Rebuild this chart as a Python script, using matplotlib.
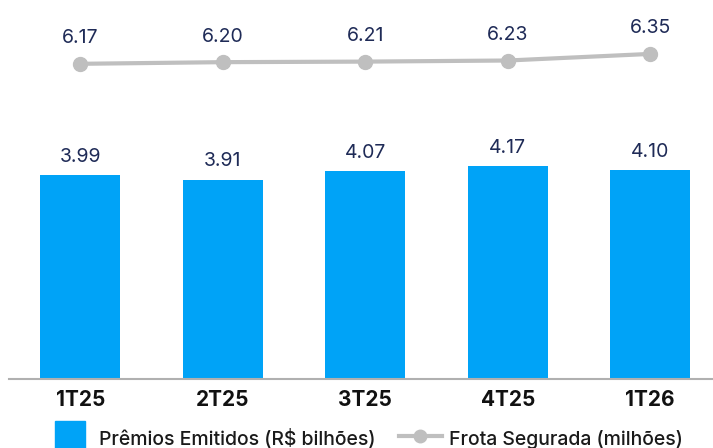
import matplotlib.pyplot as plt
from matplotlib.lines import Line2D

quarters = ['1T25', '2T25', '3T25', '4T25', '1T26']
premios = [3.99, 3.91, 4.07, 4.17, 4.10]
frota = [6.17, 6.20, 6.21, 6.23, 6.35]

blue = '#00a3f7'
gray = '#bfbfbf'
navy = '#1f2b57'

plt.rcParams['font.family'] = ['Inter', 'DejaVu Sans']

fig = plt.figure(figsize=(7.13, 4.48), dpi=100)
ax = fig.add_axes([9 / 713, 69 / 448, 1 - 9 / 713, 379 / 448])

x = range(len(quarters))
bars = ax.bar(x, premios, width=0.56, color=blue, zorder=2)
for xi, v in zip(x, premios):
    ax.text(xi, v + 0.18, f'{v:.2f}', ha='center', va='bottom', fontsize=14, color=navy)

ax.set_xlim(-0.5, 4.44)
ax.set_ylim(0, 7.43)
ax.set_yticks([])
for s in ['top', 'right', 'left']:
    ax.spines[s].set_visible(False)
ax.spines['bottom'].set_color('#b0b0b0')
ax.spines['bottom'].set_linewidth(1.5)
ax.set_xticks(list(x))
ax.set_xticklabels(quarters, fontsize=15, fontweight='bold', color='#111111')
ax.tick_params(axis='x', length=0, pad=8)

ax2 = ax.twinx()
ax2.plot(x, frota, color=gray, linewidth=3, marker='o', markersize=10, zorder=3)
for xi, v in zip(x, frota):
    ax2.text(xi, v + 0.3, f'{v:.2f}', ha='center', va='bottom', fontsize=14, color=navy)
ax2.set_ylim(0.44, 7.33)
ax2.set_yticks([])
for s in ax2.spines.values():
    s.set_visible(False)

handles = [
    Line2D([0], [0], color=blue, linestyle='none', marker='s', markersize=21,
           label='Prêmios Emitidos (R$ bilhões)'),
    Line2D([0], [0], color=gray, linewidth=3, marker='o', markersize=9,
           label='Frota Segurada (milhões)'),
]
leg = fig.legend(handles=handles, loc='lower center', bbox_to_anchor=(0.513, -0.045), ncol=2,
                 frameon=False, prop={'size': 14, 'weight': 'medium'},
                 handlelength=2.2, handleheight=1.5,
                 columnspacing=1.2, handletextpad=0.4)
for t in leg.get_texts():
    t.set_color('#1a1a1a')

fig.savefig('out.png', dpi=100)
